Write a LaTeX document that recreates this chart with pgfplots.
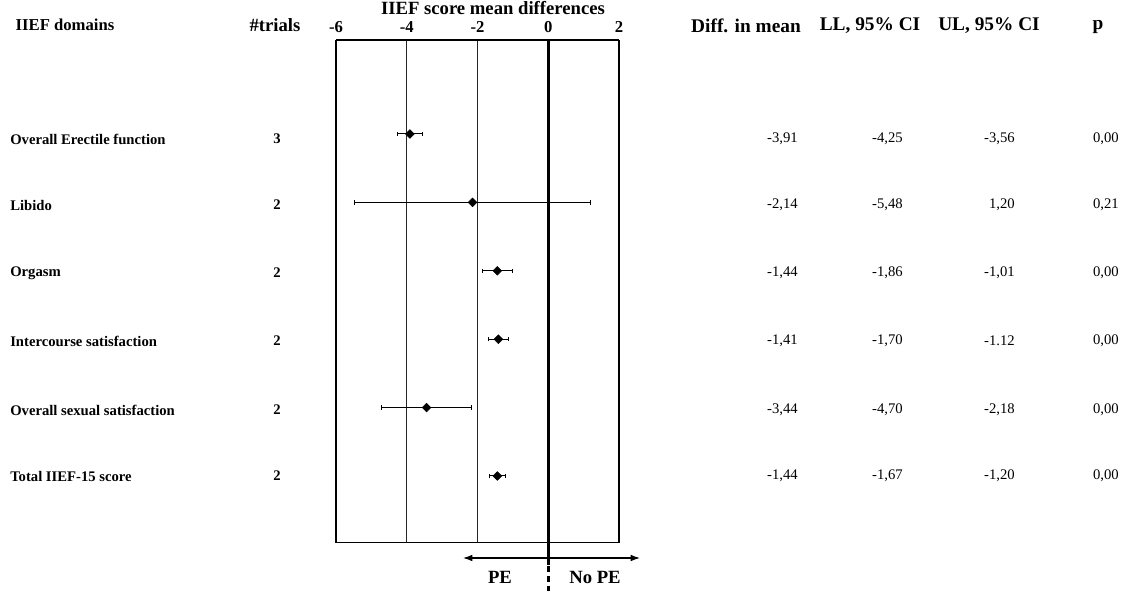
\documentclass[border=0pt]{standalone}
\usepackage{pgfplots}
\pgfplotsset{compat=1.18}
\usepackage{fontspec}
\setmainfont{Liberation Serif}
\usetikzlibrary{arrows.meta}
\begin{document}
\begin{tikzpicture}
\path[use as bounding box] (0,0) rectangle (842.25pt,-443.25pt);
\begin{axis}[
  at={(252pt,-30pt)}, anchor=north west,
  width=212.25pt, height=377.25pt, scale only axis,
  xmin=-6, xmax=2, ymin=0.0205, ymax=7.374,
  clip=false,
  axis line style={draw=none},
  ytick=\empty,
  xtick={-6,-4,-2,0,2},
  xticklabels={{-6},{-4},{-2},{0},{2}},
  xticklabel pos=right,
  major tick length=0pt,
  xticklabel style={font=\bfseries\fontsize{12.5}{15}\selectfont, anchor=center, yshift=9.75pt},
]
% frame and grid
\draw[line width=0.75pt, black!85] (axis cs:-4,0.0205) -- (axis cs:-4,7.374);
\draw[line width=0.75pt, black!85] (axis cs:-2,0.0205) -- (axis cs:-2,7.374);
\draw[line width=1pt] (axis cs:-6,0.0205) -- (axis cs:-6,7.374);
\draw[line width=0.75pt] (axis cs:-6,0.0205) -- (axis cs:2,0.0205);
\draw[line width=2pt] (axis cs:2,0.0205) -- (axis cs:2,7.374);
\draw[line width=1.5pt] (axis cs:-6,7.374) -- (axis cs:2,7.374);
\draw[line width=2.5pt] (axis cs:0,7.374) -- (axis cs:0,0.0205);
\addplot[only marks, mark=square*, mark size=2.3pt, mark options={rotate=45}, black,
  error bars/.cd, x dir=both, x explicit,
  error mark=|,
  error bar style={line width=0.75pt, black},
  error mark options={black, mark size=1.6pt, line width=0.75pt, rotate=0}]
coordinates {
  (-3.91,6) += (0.35,0) -= (0.34,0)
  (-2.14,5) += (3.34,0) -= (3.34,0)
  (-1.44,4) += (0.43,0) -= (0.42,0)
  (-1.41,3) += (0.29,0) -= (0.29,0)
  (-3.44,2) += (1.26,0) -= (1.26,0)
  (-1.44,1) += (0.24,0) -= (0.23,0)
};
\end{axis}
\begin{scope}[x=0.75pt,y=-0.75pt]
% zero line below the box
\draw[line width=2.5pt] (548.25,543) -- (548.25,565);
\draw[line width=2.5pt, dash pattern=on 4.5pt off 3pt] (548.25,566) -- (548.25,591);
\draw[line width=0.9pt, {Latex[length=7pt,width=5pt]}-{Latex[length=7pt,width=5pt]}] (463,558) -- (640,558);
\node[font=\bfseries\fontsize{14}{16}\selectfont] at (500,577) {PE};
\node[font=\bfseries\fontsize{14}{16}\selectfont] at (595,577) {No PE};
% headers
\node[font=\bfseries\fontsize{14}{17}\selectfont] at (493,8) {IIEF score mean differences};
\node[font=\bfseries\fontsize{12.5}{15}\selectfont] at (65,25) {IIEF domains};
\node[font=\bfseries\fontsize{14}{17}\selectfont] at (275,25) {\#trials};
\node[font=\bfseries\fontsize{14.5}{17}\selectfont] at (746,26) {Diff. in mean};
\node[font=\bfseries\fontsize{14.5}{17}\selectfont] at (870,26) {LL, 95\% CI};
\node[font=\bfseries\fontsize{14.5}{17}\selectfont] at (989,26) {UL, 95\% CI};
\node[font=\bfseries\fontsize{14.5}{17}\selectfont] at (1098,27) {p};
% rows
\foreach \y/\lab/\n/\d/\ll/\ul/\p in {
  139/{Overall Erectile function}/3/{-3,91}/{-4,25}/{-3,56}/{0,00},
  205/{Libido}/2/{-2,14}/{-5,48}/{1,20}/{0,21},
  273/{Orgasm}/2/{-1,44}/{-1,86}/{-1,01}/{0,00},
  341/{Intercourse satisfaction}/2/{-1,41}/{-1,70}/{-1.12}/{0,00},
  410/{Overall sexual satisfaction}/2/{-3,44}/{-4,70}/{-2,18}/{0,00},
  476/{Total IIEF-15 score}/2/{-1,44}/{-1,67}/{-1,20}/{0,00}}{
  \node[anchor=west, inner sep=0pt, font=\bfseries\fontsize{11}{13}\selectfont] at (10,\y) {\lab};
  \node[inner sep=0pt, font=\bfseries\fontsize{11}{13}\selectfont] at (277,\y) {\n};
  \node[anchor=east, inner sep=0pt, font=\fontsize{11}{13}\selectfont] at (798,\y) {\d};
  \node[anchor=east, inner sep=0pt, font=\fontsize{11}{13}\selectfont] at (903,\y) {\ll};
  \node[anchor=east, inner sep=0pt, font=\fontsize{11}{13}\selectfont] at (1015,\y) {\ul};
  \node[anchor=east, inner sep=0pt, font=\fontsize{11}{13}\selectfont] at (1119,\y) {\p};
}
\end{scope}
\end{tikzpicture}
\end{document}
